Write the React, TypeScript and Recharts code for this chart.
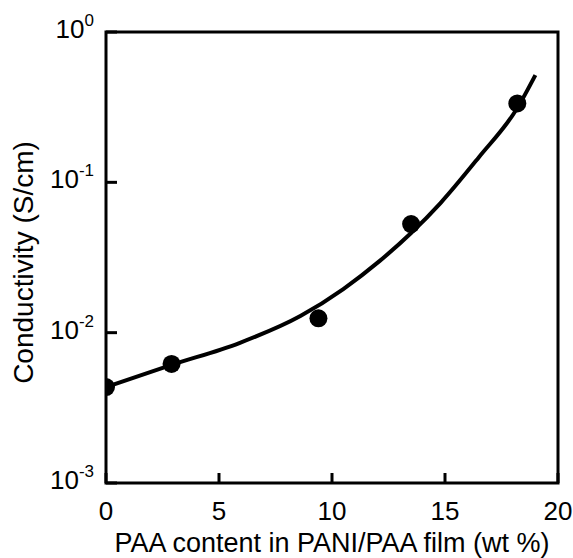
import React from "react";
import {
  ComposedChart,
  Line,
  Scatter,
  XAxis,
  YAxis,
  ReferenceArea,
} from "recharts";

const xTicks = [0, 5, 10, 15, 20];
const yTicks = [0.001, 0.01, 0.1, 1];
const yTickExponents = ["-3", "-2", "-1", "0"];

const pointX = [0, 2.9, 9.4, 13.5, 18.2];
const pointY = [0.00435, 0.0062, 0.01245, 0.0528, 0.335];

const curveX = [0, 2.9, 5.9, 8.6, 10.5, 12.1, 13.5, 14.8, 16.5, 18.2, 19];
const curveY = [
  0.00435, 0.0061, 0.00853, 0.0129, 0.0195, 0.0299, 0.046, 0.0728, 0.147,
  0.312, 0.517,
];

const xTitle = "PAA content in PANI/PAA film (wt %)";
const yTitle = "Conductivity (S/cm)";

const points = pointX.map((x, i) => ({ x, y: pointY[i] }));
const curve = curveX.map((x, i) => ({ x, y: curveY[i] }));

const FONT = "'Liberation Sans', Arial, Helvetica, sans-serif";

const XTick = (props: any) => {
  const { x, y, payload } = props;
  return (
    <g>
      <line x1={x} y1={y} x2={x} y2={y - 10} stroke="#000" strokeWidth={3} />
      <text
        x={x}
        y={y + 37}
        textAnchor="middle"
        fontSize={26}
        fontFamily={FONT}
        fill="#000"
      >
        {payload.value}
      </text>
    </g>
  );
};

const YTick = (props: any) => {
  const { x, y, payload } = props;
  const idx = yTicks.indexOf(payload.value);
  const exp = idx >= 0 ? yTickExponents[idx] : "";
  return (
    <g>
      <line x1={x} y1={y} x2={x + 11} y2={y} stroke="#000" strokeWidth={3} />
      <text
        x={x - 12}
        y={y + 6}
        textAnchor="end"
        fontSize={26}
        fontFamily={FONT}
        fill="#000"
      >
        10
        <tspan dy={-12} fontSize={17}>
          {exp}
        </tspan>
      </text>
    </g>
  );
};

const XTitle = (props: any) => {
  const vb = props.viewBox || {};
  return (
    <text
      x={vb.x + vb.width / 2}
      y={vb.y + 69}
      textAnchor="middle"
      fontSize={27}
      fontFamily={FONT}
      fill="#000"
    >
      {xTitle}
    </text>
  );
};

const YTitle = (props: any) => {
  const vb = props.viewBox || {};
  const cx = 33;
  const cy = vb.y + vb.height / 2 + 5;
  return (
    <text
      x={cx}
      y={cy}
      transform={`rotate(-90, ${cx}, ${cy})`}
      textAnchor="middle"
      fontSize={28}
      fontFamily={FONT}
      fill="#000"
    >
      {yTitle}
    </text>
  );
};

const Dot = (props: any) => {
  const { cx, cy } = props;
  return <circle cx={cx} cy={cy} r={9} fill="#000" />;
};

export default function App() {
  return (
    <div style={{ position: "absolute", left: 0, top: 0, background: "#fff" }}>
      <ComposedChart
        width={573}
        height={558}
        margin={{ top: 32, right: 15, bottom: 0, left: 16 }}
      >
        <XAxis
          dataKey="x"
          type="number"
          domain={[0, 20]}
          ticks={xTicks}
          allowDataOverflow
          axisLine={false}
          tickLine={false}
          tickSize={0}
          tickMargin={0}
          height={75}
          tick={<XTick />}
          label={<XTitle />}
        />
        <YAxis
          dataKey="y"
          type="number"
          scale="log"
          domain={[0.001, 1]}
          ticks={yTicks}
          allowDataOverflow
          axisLine={false}
          tickLine={false}
          tickSize={0}
          tickMargin={0}
          width={90}
          tick={<YTick />}
          label={<YTitle />}
        />
        <ReferenceArea
          x1={0}
          x2={20}
          y1={0.001}
          y2={1}
          fill="none"
          fillOpacity={0}
          stroke="#000"
          strokeWidth={3}
          strokeOpacity={1}
        />
        <Line
          data={curve}
          dataKey="y"
          type="monotone"
          stroke="#000"
          strokeWidth={4}
          dot={false}
          activeDot={false}
          isAnimationActive={false}
        />
        <Scatter
          data={points}
          dataKey="y"
          fill="#000"
          shape={<Dot />}
          isAnimationActive={false}
        />
      </ComposedChart>
    </div>
  );
}
